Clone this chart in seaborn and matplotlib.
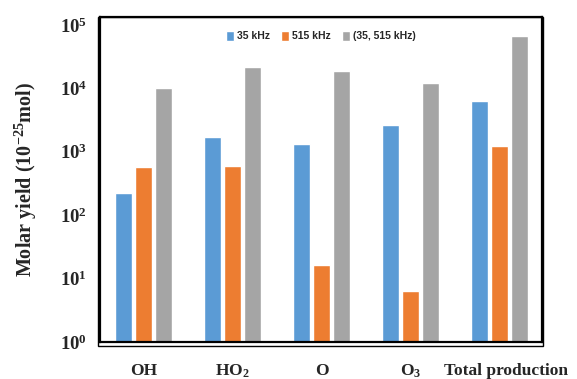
import matplotlib
matplotlib.use("Agg")
import matplotlib.pyplot as plt
import matplotlib.font_manager as fm
import matplotlib.transforms as mtrans
import seaborn as sns
import pandas as pd
from matplotlib.patches import Rectangle
from matplotlib.ticker import FixedLocator, FixedFormatter, NullLocator

categories = ["OH", "HO$_2$", "O", "O$_3$", "Total production"]
series = ["35 kHz", "515 kHz", "(35, 515 kHz)"]
vals_35 = [226, 1710, 1340, 2620, 6330]
vals_515 = [582, 597, 16.2, 6.4, 1234]
vals_both = [10140, 22000, 18800, 12300, 67000]
ytick_vals = [1, 10, 100, 1000, 10000, 100000]
ytick_labels = ["10$^{0}$", "10$^{1}$", "10$^{2}$", "10$^{3}$", "10$^{4}$", "10$^{5}$"]
colors = ["#5B9BD5", "#ED7D31", "#A5A5A5"]

rows = []
for s, vals in zip(series, [vals_35, vals_515, vals_both]):
    for c, v in zip(categories, vals):
        rows.append({"cat": c, "series": s, "val": v})
df = pd.DataFrame(rows)

sns.set_style("white")
plt.rcParams["font.family"] = ["Liberation Serif", "DejaVu Serif"]
plt.rcParams["mathtext.fontset"] = "custom"
plt.rcParams["mathtext.rm"] = "Liberation Serif:bold"
plt.rcParams["mathtext.bf"] = "Liberation Serif:bold"
plt.rcParams["mathtext.it"] = "Liberation Serif:bold"

leg_prop = fm.FontProperties(family=["Liberation Sans", "DejaVu Sans"], weight="bold", size=7.5)

fig = plt.figure(figsize=(5.77, 3.79), dpi=100)
ax = fig.add_axes([100/577, 37/379, 442/577, 325/379])
ax.set_yscale("log")

sns.barplot(data=df, x="cat", y="val", hue="series", palette=colors,
            order=categories, hue_order=series, width=0.68, gap=0.16,
            ax=ax, saturation=1, legend=True, errorbar=None)

ax.set_ylim(1, 10 ** 5.126)
ax.set_xlim(-0.49, 4.48)
ax.yaxis.set_major_locator(FixedLocator(ytick_vals))
ax.yaxis.set_major_formatter(FixedFormatter(ytick_labels))
ax.yaxis.set_minor_locator(NullLocator())
ax.set_xlabel("")
ax.set_ylabel("Molar yield (10$^{-25}$mol)", fontsize=14.5, fontweight="bold")
ax.yaxis.set_label_coords(-0.138, 0.5)
ax.tick_params(axis="y", length=0, labelsize=13.5, pad=9.5)
ax.tick_params(axis="x", length=0, labelsize=12.5, pad=15)
for lab in ax.get_xticklabels() + ax.get_yticklabels():
    lab.set_fontweight("bold")
last = ax.get_xticklabels()[-1]
last.set_transform(last.get_transform() + mtrans.ScaledTranslation(0.07, 0, fig.dpi_scale_trans))

for sp in ax.spines.values():
    sp.set_visible(True)
    sp.set_color("black")
    sp.set_linewidth(1.6)

shadow = Rectangle((-0.004, -0.012), 1.006, 1.012, transform=ax.transAxes,
                   fill=False, edgecolor="black", linewidth=1.0, clip_on=False)
ax.add_patch(shadow)

leg = ax.legend(loc="upper center", bbox_to_anchor=(0.5, 0.985), ncol=3,
                frameon=False, handlelength=0.75, handleheight=1.0,
                handletextpad=0.3, columnspacing=1.1, prop=leg_prop)

fig.savefig("out.png", dpi=100)
